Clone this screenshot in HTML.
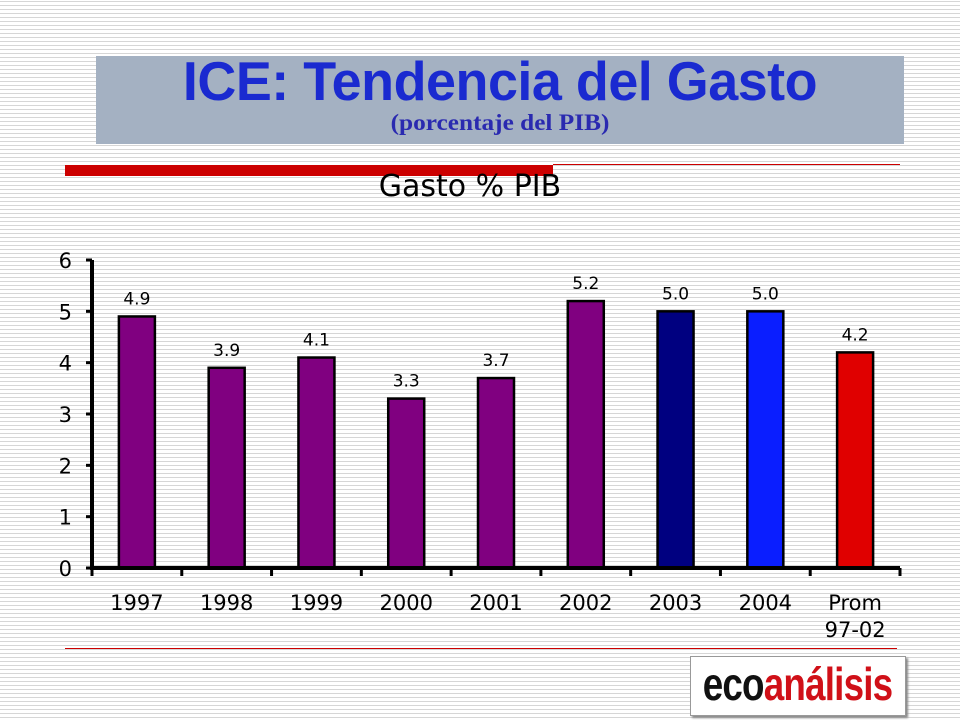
<!DOCTYPE html>
<html><head><meta charset="utf-8"><style>
body{margin:0;width:960px;height:720px;overflow:hidden;position:relative;font-family:"Liberation Sans",sans-serif;
background:repeating-linear-gradient(to bottom,#fff 0,#fff 1px,#d6d6d6 1px,#d6d6d6 2px,#fff 2px,#fff 4px);}
</style></head><body>
<div style="position:absolute;left:96px;top:56px;width:808px;height:88px;background:#a4b1c2"></div>
<div style="position:absolute;left:96px;top:49px;width:808px;text-align:center;font:bold 55px 'Liberation Sans',sans-serif;color:#1a2ad0;letter-spacing:-0.5px;transform:scaleX(0.98)">ICE: Tendencia del Gasto</div>
<div style="position:absolute;left:96px;top:110px;width:808px;text-align:center;font:bold 23px 'Liberation Serif',serif;color:#2a2ab0;transform:scaleX(1.1)">(porcentaje del PIB)</div>
<div style="position:absolute;left:65px;top:165px;width:488px;height:11px;background:#cc0000"></div>
<div style="position:absolute;left:553px;top:164px;width:347px;height:1px;background:#cc0000"></div>
<div style="position:absolute;left:65px;top:648px;width:832px;height:1px;background:#cc0000"></div>
<div style="position:absolute;left:690px;top:656px;width:214px;height:58px;background:#fff;border:1px solid #999;box-shadow:2px 2px 2px #888;text-align:center;line-height:58px;overflow:hidden;white-space:nowrap"><span style="display:inline-block;margin-left:-40px;margin-right:-40px;font:bold 46px 'Liberation Sans',sans-serif;letter-spacing:-1px;transform:scaleX(0.8)"><span style="color:#111">eco</span><span style="color:#d01018">análisis</span></span></div>
<svg id="chart" width="960" height="720" style="position:absolute;left:0;top:0" font-family="DejaVu Sans, sans-serif"></svg>
<script>
const categories=["1997","1998","1999","2000","2001","2002","2003","2004","Prom|97-02"];
const values=[4.9,3.9,4.1,3.3,3.7,5.2,5.0,5.0,4.2];
const labels=["4.9","3.9","4.1","3.3","3.7","5.2","5.0","5.0","4.2"];
const colors=["#800080","#800080","#800080","#800080","#800080","#800080","#000080","#0a1eff","#e00000"];
const yTicks=[0,1,2,3,4,5,6];
const svg=document.getElementById('chart');const NS='http://www.w3.org/2000/svg';
const x0=92,x1=900,y0=568,y1=260,yMax=6;
const band=(x1-x0)/categories.length;
const ys=v=>y0-(v/yMax)*(y0-y1);
function mk(t,a,txt){const e=document.createElementNS(NS,t);for(const k in a)e.setAttribute(k,a[k]);if(txt!=null)e.textContent=txt;svg.appendChild(e);return e;}
let t=mk('text',{x:470,y:196,'text-anchor':'middle','font-size':30},'Gasto % PIB');


values.forEach((v,i)=>{
 const cx=x0+band*(i+0.5);
 const r=mk('rect',{x:cx-18,y:ys(v),width:36,height:y0-ys(v),fill:colors[i],stroke:'#000','stroke-width':2.5});
 
 
 const l=mk('text',{x:cx,y:ys(v)-12,'text-anchor':'middle','font-size':17},labels[i]);
 
 
 categories[i].split('|').forEach((p,j)=>{
  const c=mk('text',{x:cx,y:610+j*27,'text-anchor':'middle','font-size':21},p);
  
  
 });
});
let ax=mk('line',{x1:x0,y1:y1,x2:x0,y2:y0+2,stroke:'#000','stroke-width':4});


let bx=mk('line',{x1:x0,y1:y0,x2:x1,y2:y0,stroke:'#000','stroke-width':4});


yTicks.forEach(v=>{
 mk('line',{x1:x0-6,y1:ys(v),x2:x0,y2:ys(v),stroke:'#000','stroke-width':3});
 const l=mk('text',{x:72,y:ys(v)+8,'text-anchor':'end','font-size':21},String(v));
 
 
});
for(let i=0;i<=categories.length;i++){const x=x0+band*i;mk('line',{x1:x,y1:y0,x2:x,y2:y0+8,stroke:'#000','stroke-width':3});}
</script>
</body></html>
